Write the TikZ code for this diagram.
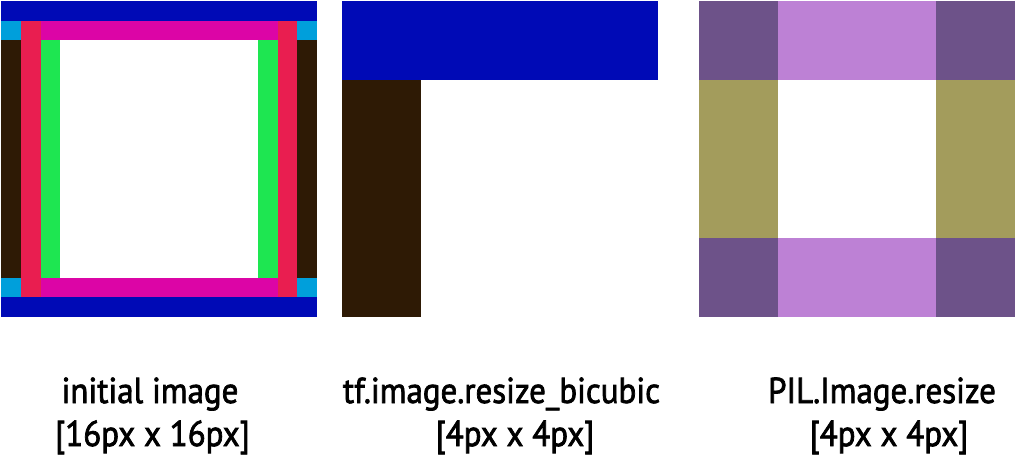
\documentclass[tikz,border=0pt]{standalone}
\usepackage{fontspec}
\setmainfont{PT Sans}[FakeBold=2, FakeStretch=0.915]
\usepackage{tikz}
\definecolor{pxblue}{HTML}{000AB6}
\definecolor{pxcyan}{HTML}{009FDB}
\definecolor{pxred}{HTML}{E91E50}
\definecolor{pxmagenta}{HTML}{DC05A6}
\definecolor{pxgreen}{HTML}{1EE651}
\definecolor{pxbrown}{HTML}{2E1A05}
\definecolor{pxdarkviolet}{HTML}{6D5289}
\definecolor{pxlightviolet}{HTML}{BD81D5}
\definecolor{pxolive}{HTML}{A39C5C}
\tikzset{
  caption/.style={anchor=base, font=\fontsize{36}{42}\selectfont, inner sep=0pt},
}
\begin{document}
\begin{tikzpicture}[x=1pt, y=-1pt]
  \useasboundingbox (0,0) rectangle (1016,460);
  % initial image, 16 x 16
  \begin{scope}[shift={(1,1)}, x=19.75pt, y=-19.75pt]
    \draw[fill=pxblue, draw=none] (0,0) rectangle (16,1);
    \draw[fill=pxblue, draw=none] (0,15) rectangle (16,16);
    \draw[fill=pxcyan, draw=none] (0,1) rectangle (1,2);
    \draw[fill=pxcyan, draw=none] (15,1) rectangle (16,2);
    \draw[fill=pxcyan, draw=none] (0,14) rectangle (1,15);
    \draw[fill=pxcyan, draw=none] (15,14) rectangle (16,15);
    \draw[fill=pxbrown, draw=none] (0,2) rectangle (1,14);
    \draw[fill=pxbrown, draw=none] (15,2) rectangle (16,14);
    \draw[fill=pxred, draw=none] (1,1) rectangle (2,15);
    \draw[fill=pxred, draw=none] (14,1) rectangle (15,15);
    \draw[fill=pxmagenta, draw=none] (2,1) rectangle (14,2);
    \draw[fill=pxmagenta, draw=none] (2,14) rectangle (14,15);
    \draw[fill=pxgreen, draw=none] (2,2) rectangle (3,14);
    \draw[fill=pxgreen, draw=none] (13,2) rectangle (14,14);
  \end{scope}
  % tf bicubic, 4 x 4
  \begin{scope}[shift={(342,1)}, x=79pt, y=-79pt]
    \draw[fill=pxblue, draw=none] (0,0) rectangle (4,1);
    \draw[fill=pxbrown, draw=none] (0,1) rectangle (1,4);
  \end{scope}
  % PIL, 4 x 4
  \begin{scope}[shift={(699.3,1)}, x=79pt, y=-79pt]
    \foreach \cx/\cy in {0/0,3/0,0/3,3/3}
      \draw[fill=pxdarkviolet, draw=none] (\cx,\cy) rectangle ++(1,1);
    \draw[fill=pxlightviolet, draw=none] (1,0) rectangle (3,1);
    \draw[fill=pxlightviolet, draw=none] (1,3) rectangle (3,4);
    \draw[fill=pxolive, draw=none] (0,1) rectangle (1,3);
    \draw[fill=pxolive, draw=none] (3,1) rectangle (4,3);
  \end{scope}
  \node[caption] (initname) at (150,403) {initial image};
  \node[caption] (initsize) at (152.5,446) {[16px x 16px]};
  \node[caption] (tfname) at (501.5,403) {tf.image.resize\_bicubic};
  \node[caption] (tfsize) at (515,446) {[4px x 4px]};
  \node[caption] (pilname) at (882,403) {PIL.Image.resize};
  \node[caption] (pilsize) at (889,446) {[4px x 4px]};
\end{tikzpicture}
\end{document}
